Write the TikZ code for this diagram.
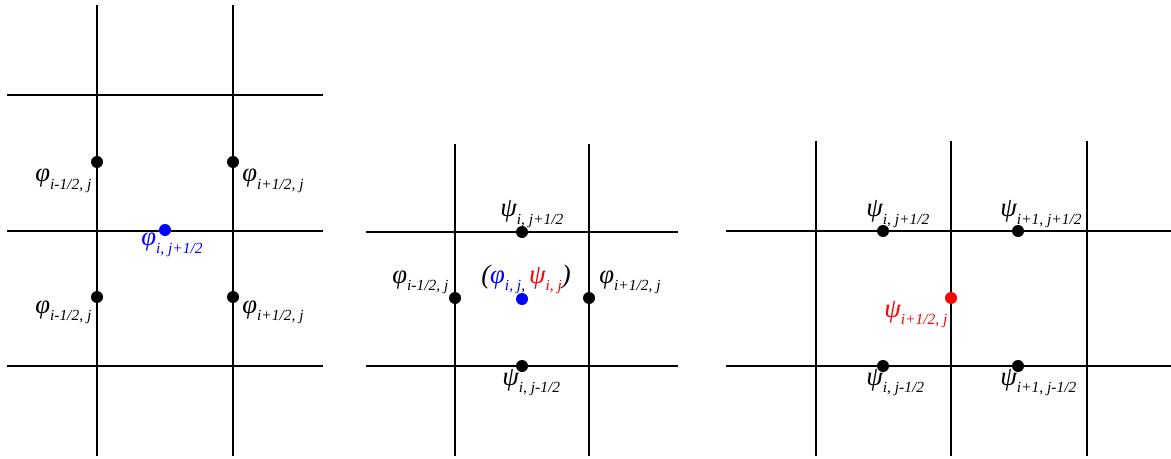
\documentclass[tikz,border=0pt]{standalone}
\usepackage{fontspec}
\setmainfont{Liberation Serif}
\usetikzlibrary{positioning}

% symbol with a lowered subscript, as in the grid figure
\newcommand{\gsym}[2]{{\fontsize{19}{21}\selectfont\itshape #1}\raisebox{-5.6pt}{\fontsize{11}{13}\selectfont\itshape #2}}

\tikzset{
  gridline/.style={line width=1.3pt},
  gdot/.style={circle, fill=#1, inner sep=0pt, minimum size=3mm},
  gdot/.default=black,
  glabel/.style={anchor=base west, inner sep=0pt},
}

\begin{document}
\begin{tikzpicture}[x=0.025cm, y=-0.025cm]
\useasboundingbox (0,0) rectangle (1171,459);

% left panel: phi on vertical faces
\foreach \x in {97,233}
  \draw[gridline] (\x,5) -- (\x,456);
\foreach \y in {95,231,366}
  \draw[gridline] (7,\y) -- (323,\y);
\node[gdot] (pa) at (97,162) {};
\node[gdot] (pb) at (233,162) {};
\node[gdot] (pc) at (97,297) {};
\node[gdot] (pd) at (233,297) {};
\node[gdot=blue] (pe) at (165,230) {};
\node[glabel] (la) at (35,182) {\gsym{φ}{i-1/2, j}};
\node[glabel] (lb) at (242,182) {\gsym{φ}{i+1/2, j}};
\node[glabel] (lc) at (35,313) {\gsym{φ}{i-1/2, j}};
\node[glabel] (ld) at (242,313) {\gsym{φ}{i+1/2, j}};
\node[glabel, text=blue] (le) at (141,246) {\gsym{φ}{i, j+1/2}};

% middle panel: cell centre
\foreach \x in {455,589}
  \draw[gridline] (\x,144) -- (\x,456);
\foreach \y in {232,366}
  \draw[gridline] (366,\y) -- (678,\y);
\node[gdot] (qa) at (522,232) {};
\node[gdot] (qb) at (522,366) {};
\node[gdot] (qc) at (455,298) {};
\node[gdot] (qd) at (589,298) {};
\node[gdot=blue] (qe) at (522,299) {};
\node[glabel] (ma) at (500,217) {\gsym{ψ}{i, j+1/2}};
\node[glabel] (mb) at (502,385) {\gsym{ψ}{i, j-1/2}};
\node[glabel] (mc) at (392,283) {\gsym{φ}{i-1/2, j}};
\node[glabel] (md) at (599,283) {\gsym{φ}{i+1/2, j}};
\node[glabel] (me) at (481,283) {{\fontsize{19}{21}\selectfont\itshape (}\textcolor{blue}{\gsym{φ}{i, j}}\raisebox{-5.6pt}{\fontsize{11}{13}\selectfont\itshape ,~}\textcolor{red}{\gsym{ψ}{i, j}}{\fontsize{19}{21}\selectfont\itshape )}};

% right panel: psi on vertical faces
\foreach \x in {816,951,1087}
  \draw[gridline] (\x,141) -- (\x,456);
\foreach \y in {231,366}
  \draw[gridline] (726,\y) -- (1171,\y);
\node[gdot] (ra) at (883,231) {};
\node[gdot] (rb) at (1018,231) {};
\node[gdot] (rc) at (883,366) {};
\node[gdot] (rd) at (1018,366) {};
\node[gdot=red] (re) at (951,298) {};
\node[glabel] (na) at (866,217) {\gsym{ψ}{i, j+1/2}};
\node[glabel] (nb) at (1000,217) {\gsym{ψ}{i+1, j+1/2}};
\node[glabel] (nc) at (866,385) {\gsym{ψ}{i, j-1/2}};
\node[glabel] (nd) at (1000,385) {\gsym{ψ}{i+1, j-1/2}};
\node[glabel, text=red] (ne) at (884,317) {\gsym{ψ}{i+1/2, j}};
\end{tikzpicture}
\end{document}
